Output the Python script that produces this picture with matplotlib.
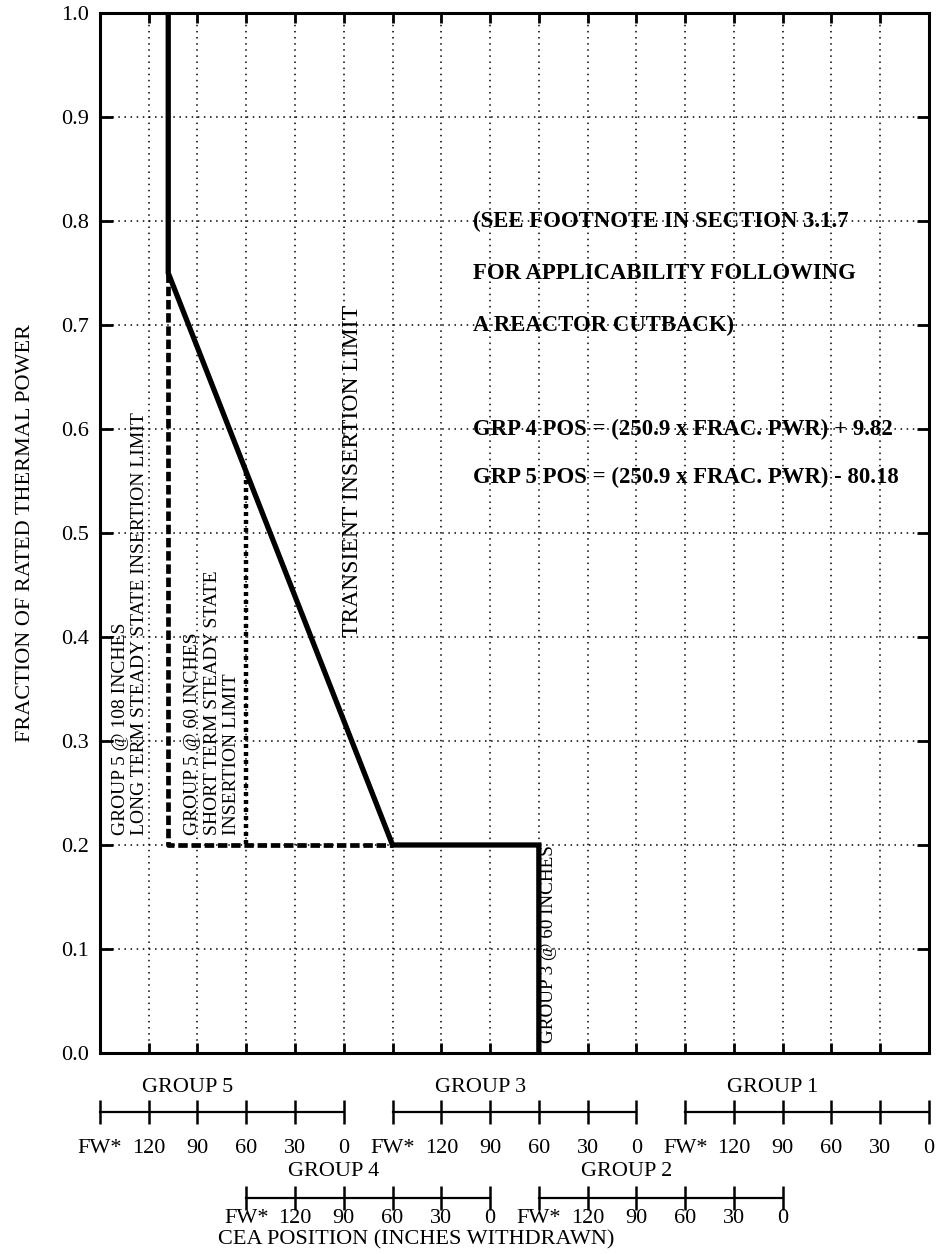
import matplotlib.pyplot as plt
from matplotlib.transforms import blended_transform_factory

plt.rcParams['font.family'] = ['Liberation Serif', 'DejaVu Serif']

# Each group scale runs FW*, 120, 90, 60, 30, 0 inches; FW* is plotted one step (30 in) past 120
group_start = {5: 0, 4: 3, 3: 6, 2: 9, 1: 12}
scale_labels = ['FW*', '120', '90', '60', '30', '0']

# Transient insertion limit (solid)
transient_group = [5, 5, 4, 3, 3]
transient_inches = [108, 108, 60, 60, 60]
transient_power = [1.0, 0.75, 0.2, 0.2, 0.0]

# Long term steady state insertion limit (dashed)
long_group = [5, 5, 4]
long_inches = [108, 108, 60]
long_power = [0.75, 0.2, 0.2]

# Short term steady state insertion limit (dotted)
short_group = [5, 5]
short_inches = [60, 60]
short_power = [0.559, 0.2]


def grid_pos(group, inches):
    return group_start[group] + (150 - inches) / 30.0


fig = plt.figure(figsize=(9.36, 12.54), dpi=100)
ax = fig.add_axes([0.1068, 0.1603, 0.8857, 0.8293])

tx = [grid_pos(g, i) for g, i in zip(transient_group, transient_inches)]
lx = [grid_pos(g, i) for g, i in zip(long_group, long_inches)]
sx = [grid_pos(g, i) for g, i in zip(short_group, short_inches)]

ax.plot(lx, long_power, color='black', lw=3.4, ls=(0, (2.0, 0.8)), zorder=3)
ax.plot(sx, short_power, color='black', lw=3.2, ls=(0, (0.9, 0.9)), zorder=3)
ax.plot(tx, transient_power, color='black', lw=3.8, solid_joinstyle='miter', zorder=4)

ax.set_xlim(0, 17)
ax.set_ylim(0, 1)
ax.set_xticks(range(0, 18))
ax.set_xticklabels([])
ax.set_yticks([i / 10 for i in range(11)])
ax.set_yticklabels(['%.1f' % (i / 10) for i in range(11)], fontsize=16)
ax.tick_params(axis='x', direction='in', length=7, width=2, top=True, bottom=True)
ax.tick_params(axis='y', direction='in', length=9, width=2, left=True, right=True, pad=8)
ax.grid(True, color='black', ls=(0, (1, 3)), lw=1.1)
for sp in ax.spines.values():
    sp.set_linewidth(2.2)
ax.set_ylabel('FRACTION OF RATED THERMAL POWER', fontsize=16, labelpad=19)

# rotated curve labels
ax.text(0.615, 0.21, 'GROUP 5 @ 108 INCHES\nLONG TERM STEADY STATE INSERTION LIMIT',
        rotation=90, ha='center', va='bottom', fontsize=14, multialignment='left')
ax.text(2.3, 0.21, 'GROUP 5 @ 60 INCHES\nSHORT TERM STEADY STATE\nINSERTION LIMIT',
        rotation=90, ha='center', va='bottom', fontsize=14, multialignment='left')
ax.text(5.17, 0.4, 'TRANSIENT INSERTION LIMIT',
        rotation=90, ha='center', va='bottom', fontsize=17)
ax.text(9.19, 0.01, 'GROUP 3 @ 60 INCHES',
        rotation=90, ha='center', va='bottom', fontsize=13.8)

# notes
note_x = 7.65
note_kw = dict(fontsize=16.4, fontweight='bold', va='center')
ax.text(note_x, 0.8, '(SEE FOOTNOTE IN SECTION 3.1.7', **note_kw)
ax.text(note_x, 0.75, 'FOR APPLICABILITY FOLLOWING', **note_kw)
ax.text(note_x, 0.70, 'A REACTOR CUTBACK)', **note_kw)
ax.text(note_x, 0.60, 'GRP 4 POS = (250.9 x FRAC. PWR) + 9.82', **note_kw)
ax.text(note_x, 0.553, 'GRP 5 POS = (250.9 x FRAC. PWR) - 80.18', **note_kw)

# group position scales below the plot
trans = blended_transform_factory(ax.transData, fig.transFigure)
rows = {5: 0, 3: 0, 1: 0, 4: 1, 2: 1}
row_line_y = [0.1132, 0.0447]
row_label_y = [0.0845, 0.0287]
row_title_y = [0.1324, 0.0654]
for g, r in rows.items():
    xs = [group_start[g] + k for k in range(6)]
    ax.plot(xs, [row_line_y[r]] * 6, color='black', lw=1.6, marker='|', ms=17, mew=1.8,
            transform=trans, clip_on=False)
    for xv, lab in zip(xs, scale_labels):
        ax.text(xv, row_label_y[r], lab, transform=trans, ha='center', va='center', fontsize=16)
    ax.text(group_start[g] + 1.8, row_title_y[r], 'GROUP %d' % g, transform=trans,
            ha='center', va='center', fontsize=16)

fig.text(0.445, 0.0112, 'CEA POSITION (INCHES WITHDRAWN)', ha='center', va='center', fontsize=16)

fig.savefig('out.png', dpi=100, facecolor='white')
